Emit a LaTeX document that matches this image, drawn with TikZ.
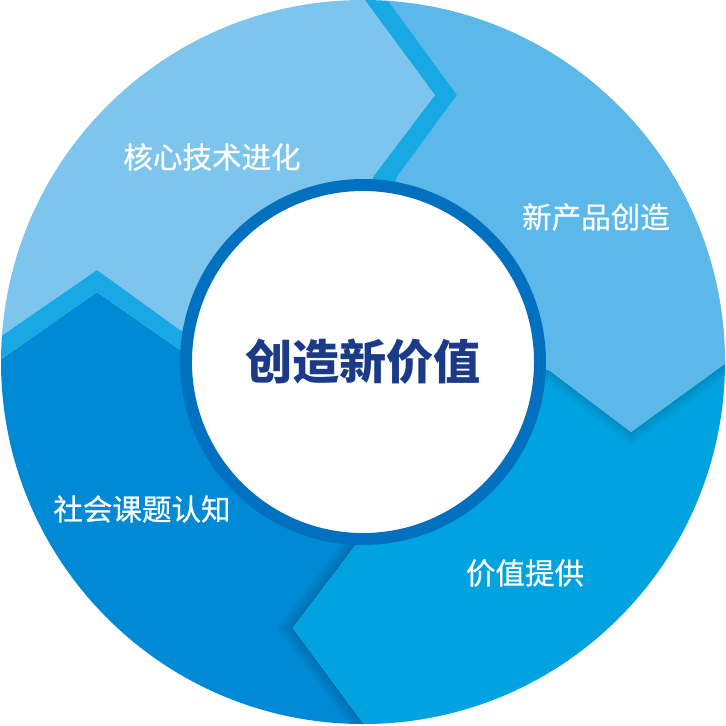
\documentclass[tikz,border=0pt]{standalone}
\usepackage{fontspec}
\newfontfamily\cjk{Noto Sans CJK SC}
\newfontfamily\cjkmittel[FakeBold=0.6]{Noto Sans CJK SC}
\definecolor{hellblau}{HTML}{7DC5EC}
\definecolor{mittelblau}{HTML}{5BB8E8}
\definecolor{cyanblau}{HTML}{00A3E0}
\definecolor{tiefblau}{HTML}{0089D4}
\definecolor{bandblau}{HTML}{18A8E4}
\definecolor{ringblau}{HTML}{0070BF}
\definecolor{textblau}{HTML}{1B3A87}
\begin{document}
\begin{tikzpicture}[x=0.01cm, y=-0.01cm]
	\useasboundingbox (0,0) rectangle (726,726);
	\coordinate (mitte) at (363,362);
	\begin{scope}
		\clip (mitte) circle[radius=362];
		% Segment unten links
		\fill[tiefblau] (mitte) -- (355,546) -- (293,628) -- (363,723) -- (420,800)
		-- (-50,800) -- (-50,395) -- (0,360) -- (97,292) -- (180,350) -- cycle;
		% Schatten unten rechts
		\foreach \k in {2,4,...,16}
			\fill[black, opacity=0.018, shift={(-\k,0)}] (mitte) -- (549,370) --
			(631,432) -- (726,363) -- (800,309) -- (800,800) -- (420,800) --
			(363,723) -- (293,628) -- (355,546) -- cycle;
		% Segment unten rechts
		\fill[cyanblau] (mitte) -- (549,370) -- (631,432) -- (726,363) -- (800,309)
		-- (800,800) -- (420,800) -- (363,723) -- (293,628) -- (355,546) -- cycle;
		% Schatten oben rechts
		\foreach \k in {2,4,...,14}
			\fill[black, opacity=0.014, shift={(0,\k)}] (mitte) -- (397,177) --
			(457,95) -- (351,-50) -- (800,-50) -- (800,309) -- (726,363) --
			(631,432) -- (549,370) -- cycle;
		% Segment oben rechts
		\fill[mittelblau] (mitte) -- (397,177) -- (457,95) -- (351,-50) -- (800,-50)
		-- (800,309) -- (726,363) -- (631,432) -- (549,370) -- cycle;
		% Segment oben links
		\fill[hellblau] (mitte) -- (180,330) -- (97,270) -- (0,337) -- (-50,372)
		-- (-50,-50) -- (328,-50) -- (435,95) -- (373,177) -- cycle;
		% Baender
		\fill[bandblau] (mitte) -- (373,177) -- (435,95) -- (328,-50) -- (351,-50)
		-- (457,95) -- (397,177) -- cycle;
		\fill[bandblau] (mitte) -- (180,350) -- (97,292) -- (0,360) -- (-50,395)
		-- (-50,372) -- (0,337) -- (97,270) -- (180,330) -- cycle;
	\end{scope}
	% Innenkreis
	\filldraw[line width=3.4pt, draw=ringblau, fill=white] (mitte) circle[radius=177];
	\node[text=textblau] (wert) at (mitte) {\cjk\bfseries\fontsize{13.4}{16}\selectfont 创造新价值};
	% Beschriftungen
	\node[text=white] (kern) at (212,157) {\cjkmittel\fontsize{8.4}{10}\selectfont 核心技术进化};
	\node[text=white] (produkt) at (596,217) {\cjkmittel\fontsize{8.4}{10}\selectfont 新产品创造};
	\node[text=white] (angebot) at (525,573) {\cjkmittel\fontsize{8.4}{10}\selectfont 价值提供};
	\node[text=white] (gesell) at (142,509) {\cjkmittel\fontsize{8.4}{10}\selectfont 社会课题认知};
\end{tikzpicture}
\end{document}
